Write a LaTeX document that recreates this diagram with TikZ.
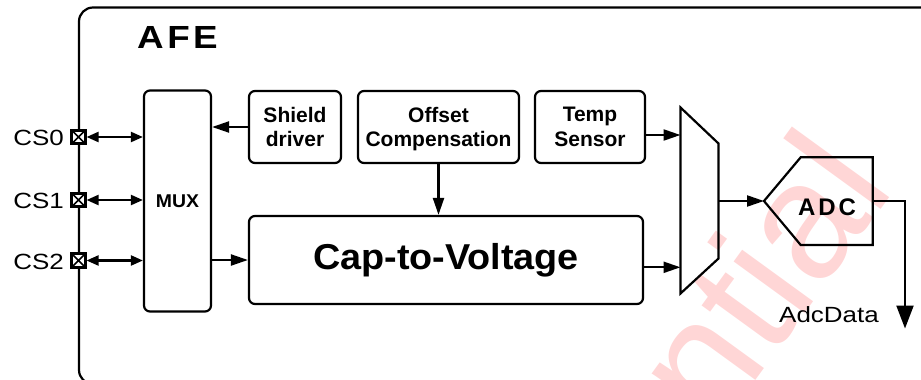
\documentclass[tikz,border=0pt]{standalone}
\usepackage{fontspec}
\setmainfont{Liberation Sans}
\newfontfamily\wideR{Liberation Sans}[FakeStretch=1.18]
\newfontfamily\wideB{Liberation Sans}[FakeStretch=1.15]
\newfontfamily\midB{Liberation Sans}[FakeStretch=1.05]
\usetikzlibrary{arrows.meta}
\definecolor{wm}{RGB}{255,214,214}
\begin{document}
\begin{tikzpicture}[x=1pt,y=-1pt,
  blk/.style={draw, line width=2.2pt, rounded corners=6pt, inner sep=0pt},
  lbl/.style={font=\bfseries\fontsize{21}{24.5}\selectfont, align=center, inner sep=0pt},
  reg/.style={font=\wideR\fontsize{22}{26}\selectfont, inner sep=0pt},
  ar/.style={line width=2.2pt, -{Triangle[length=17pt,width=11pt]}},
  pinar/.style={line width=2.2pt, {Triangle[length=12pt,width=10pt]}-{Triangle[length=12pt,width=10pt]}},
  pin/.style={draw, line width=2.6pt, fill=white, minimum size=13.5pt, inner sep=0pt,
    path picture={\draw[line width=1.6pt]
      (path picture bounding box.north west) -- (path picture bounding box.south east)
      (path picture bounding box.north east) -- (path picture bounding box.south west);}},
  ]
\useasboundingbox (0,0) rectangle (921,380);
\clip (0,0) rectangle (921,380);

% watermark
\node[text=wm, font=\fontsize{166}{166}\selectfont, rotate=54, anchor=base east, inner sep=0pt] (wmk) at (896,188) {ntial};

% AFE container
\node[draw, line width=2.2pt, rounded corners=14pt, minimum width=881pt, minimum height=376.5pt, inner sep=0pt] (afe) at (519.5,195.75) {};
\node[font=\wideB\bfseries\fontsize{32}{36}\selectfont, anchor=base west, inner sep=0pt] (afet) at (137,48) {A\kern3.5pt F\kern3.5pt E};

% blocks
\node[blk, minimum width=67pt, minimum height=221pt, font=\midB\bfseries\fontsize{18.5}{22}\selectfont] (mux) at (177.5,201) {MUX};
\node[blk, minimum width=92pt, minimum height=72pt] (shield) at (295,127) {};
\node[blk, minimum width=161pt, minimum height=72pt] (offset) at (438.5,127) {};
\node[blk, minimum width=110pt, minimum height=72pt] (temp) at (590,127) {};
\node[lbl] (shieldt) at (shield.center) {Shield\\driver};
\node[lbl] (offsett) at ([yshift=-2.2pt]offset.center) {Offset\\Compensation};
\node[lbl] (tempt) at (temp.center) {Temp\\Sensor};
\node[blk, minimum width=394pt, minimum height=88pt, font=\midB\bfseries\fontsize{36}{40}\selectfont] (cap) at (446,260) {Cap-to-Voltage};

% analog mux (trapezoid)
\draw[line width=2.2pt, line join=miter] (680.5,107.5) -- (718.5,143.5) -- (718.5,258.5) -- (680.5,293.5) -- cycle;
\coordinate (tin1) at (680.5,135);
\coordinate (tin2) at (680.5,267.3);
\coordinate (tout) at (718.5,201);

% ADC
\draw[line width=2.2pt, line join=miter] (764,201) -- (800.7,157.3) -- (872.7,157.3) -- (872.7,245) -- (800.7,245) -- cycle;
\coordinate (adcin) at (764,201);
\coordinate (adcout) at (872.7,201);
\node[font=\bfseries\fontsize{24}{28}\selectfont, anchor=base, inner sep=0pt] (adc) at (827,215) {A\kern3pt D\kern3pt C};
\coordinate (dout) at (905,328.5);
\node[reg, anchor=base] (adcdata) at (829,322.7) {AdcData};

% pins
\node[pin] (p0) at (78.5,137) {};
\node[pin] (p1) at (78.5,200) {};
\node[pin] (p2) at (78.5,260.5) {};
\node[reg, anchor=base east] (cs0) at (64,145.7) {CS0};
\node[reg, anchor=base east] (cs1) at (64,208.5) {CS1};
\node[reg, anchor=base east] (cs2) at (64,269) {CS2};

% connectors
\draw[pinar] (p0.east) -- (p0.east -| mux.west);
\draw[pinar] (p1.east) -- (p1.east -| mux.west);
\draw[pinar] (p2.east) -- (p2.east -| mux.west);
\draw[ar] (shield.west) -- (shield.west -| mux.east);
\draw[ar] (mux.east |- cap.west) -- (cap.west);
\draw[ar] (offset.south) -- (offset.south |- cap.north);
\draw[ar] (tin1 -| temp.east) -- (tin1);
\draw[ar] (tin2 -| cap.east) -- (tin2);
\draw[ar] (tout) -- (adcin);
\draw[line width=2.2pt, -{Triangle[length=23pt,width=17pt]}] (adcout) -| (dout);
\end{tikzpicture}
\end{document}
